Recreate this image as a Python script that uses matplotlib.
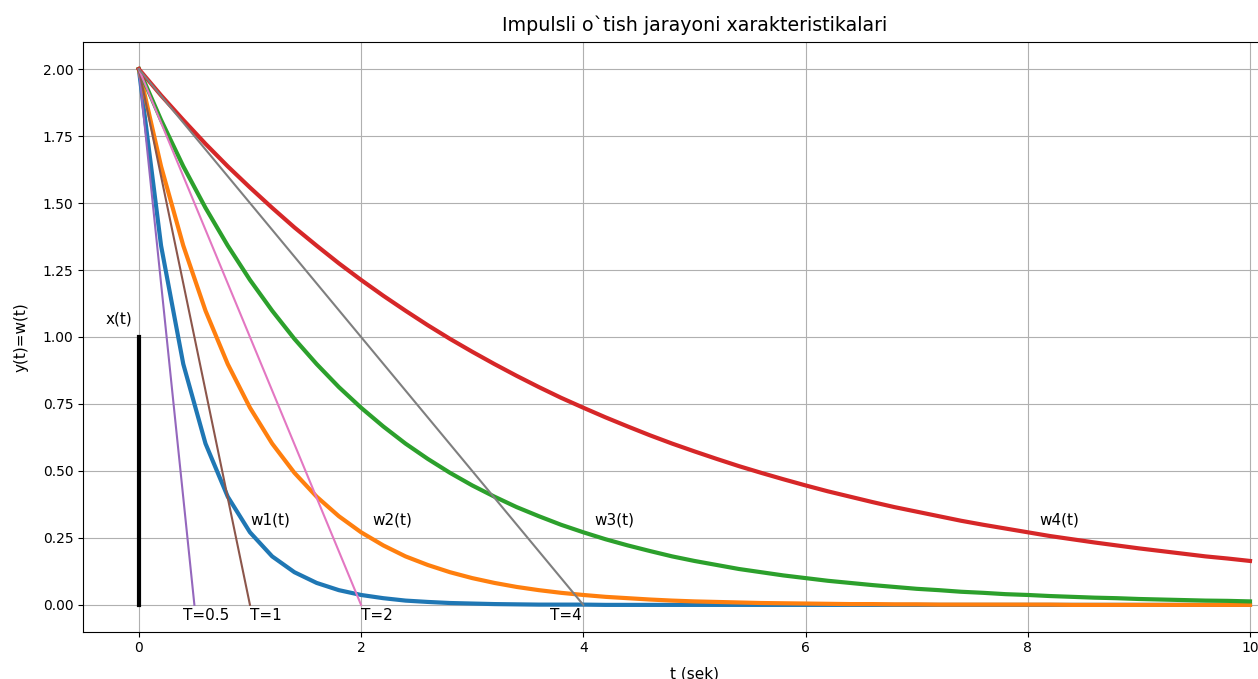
import numpy as np
import matplotlib
matplotlib.use("Agg")
import matplotlib.pyplot as plt

# time samples (sek)
t_sek = [0.0, 0.2, 0.4, 0.6, 0.8, 1.0, 1.2, 1.4, 1.6, 1.8,
         2.0, 2.2, 2.4, 2.6, 2.8, 3.0, 3.2, 3.4, 3.6, 3.8,
         4.0, 4.2, 4.4, 4.6, 4.8, 5.0, 5.2, 5.4, 5.6, 5.8,
         6.0, 6.2, 6.4, 6.6, 6.8, 7.0, 7.2, 7.4, 7.6, 7.8,
         8.0, 8.2, 8.4, 8.6, 8.8, 9.0, 9.2, 9.4, 9.6, 9.8, 10.0]

# impulse responses
w1 = [2.000, 1.341, 0.899, 0.602, 0.404, 0.271, 0.181, 0.122, 0.082, 0.055,
      0.037, 0.025, 0.016, 0.011, 0.007, 0.005, 0.003, 0.002, 0.001, 0.001,
      0.001, 0.000, 0.000, 0.000, 0.000, 0.000, 0.000, 0.000, 0.000, 0.000,
      0.000, 0.000, 0.000, 0.000, 0.000, 0.000, 0.000, 0.000, 0.000, 0.000,
      0.000, 0.000, 0.000, 0.000, 0.000, 0.000, 0.000, 0.000, 0.000, 0.000, 0.000]
w2 = [2.000, 1.637, 1.341, 1.098, 0.899, 0.736, 0.602, 0.493, 0.404, 0.331,
      0.271, 0.222, 0.181, 0.149, 0.122, 0.100, 0.082, 0.067, 0.055, 0.045,
      0.037, 0.030, 0.025, 0.020, 0.016, 0.013, 0.011, 0.009, 0.007, 0.006,
      0.005, 0.004, 0.003, 0.003, 0.002, 0.002, 0.001, 0.001, 0.001, 0.001,
      0.001, 0.001, 0.000, 0.000, 0.000, 0.000, 0.000, 0.000, 0.000, 0.000, 0.000]
w3 = [2.000, 1.810, 1.637, 1.482, 1.341, 1.213, 1.098, 0.993, 0.899, 0.813,
      0.736, 0.666, 0.602, 0.545, 0.493, 0.446, 0.404, 0.365, 0.331, 0.299,
      0.271, 0.245, 0.222, 0.201, 0.181, 0.164, 0.149, 0.134, 0.122, 0.110,
      0.100, 0.090, 0.082, 0.074, 0.067, 0.060, 0.055, 0.049, 0.045, 0.040,
      0.037, 0.033, 0.030, 0.027, 0.025, 0.022, 0.020, 0.018, 0.016, 0.015, 0.013]
w4 = [2.000, 1.902, 1.810, 1.721, 1.637, 1.558, 1.482, 1.409, 1.341, 1.275,
      1.213, 1.154, 1.098, 1.044, 0.993, 0.945, 0.899, 0.855, 0.813, 0.773,
      0.736, 0.700, 0.666, 0.633, 0.602, 0.573, 0.545, 0.518, 0.493, 0.469,
      0.446, 0.424, 0.404, 0.384, 0.365, 0.348, 0.331, 0.314, 0.299, 0.285,
      0.271, 0.257, 0.245, 0.233, 0.222, 0.211, 0.201, 0.191, 0.181, 0.173, 0.164]

# time constants and tangent lines: from (0, y0) down to (T, 0)
T_values = [0.5, 1, 2, 4]
y0 = 2.0
T_labels = ["T=0.5", "T=1", "T=2", "T=4"]
T_label_x = [0.4, 1.0, 2.0, 3.7]

curve_labels = ["w1(t)", "w2(t)", "w3(t)", "w4(t)"]
curve_label_x = [1.0, 2.1, 4.1, 8.1]

# input impulse x(t)
x_t = [0.0, 0.0]
x_val = [0.0, 1.0]

fig = plt.figure(figsize=(12.58, 6.79), dpi=100)
# axes run past the right edge, as in the cropped original
ax = fig.add_axes([0.0662, 0.0697, 0.9716, 0.8680])

for w in [w1, w2, w3, w4]:
    ax.plot(t_sek, w, lw=3)

for T in T_values:
    ax.plot([0, T], [y0, 0], lw=1.5)

ax.plot(x_t, x_val, color="black", lw=3)

ax.text(-0.3, 1.05, "x(t)", fontsize=11)
for lbl, xp in zip(curve_labels, curve_label_x):
    ax.text(xp, 0.3, lbl, fontsize=11)
for lbl, xp in zip(T_labels, T_label_x):
    ax.text(xp, -0.055, lbl, fontsize=11)

ax.set_title("Impulsli o`tish jarayoni xarakteristikalari", fontsize=13.7, pad=8)
ax.set_xlabel("t (sek)", fontsize=11, labelpad=8)
ax.set_ylabel("y(t)=w(t)", fontsize=11, labelpad=10.5)
ax.grid(True)

fig.savefig("out.png", dpi=100)
